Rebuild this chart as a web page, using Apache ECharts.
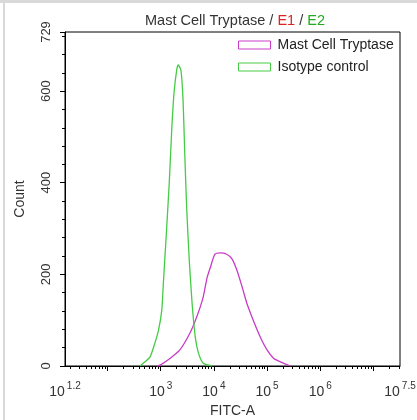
<!DOCTYPE html>
<html>
<head>
<meta charset="utf-8">
<script src="https://cdn.jsdelivr.net/npm/echarts@6/dist/echarts.min.js"></script>
<style>
html,body{margin:0;padding:0;background:#fff;}
#main{width:417px;height:420px;}
</style>
</head>
<body>
<div id="main"></div>
<script>
// ---- data (x as log10 of FITC-A, y as count) ----
const seriesNames = ['Mast Cell Tryptase', 'Isotype control'];
const tryptaseLogX = [2.93, 2.99, 3.18, 3.36, 3.55, 3.68, 3.80, 3.87, 3.93, 4.02, 4.12, 4.24, 4.34, 4.43, 4.53, 4.62, 4.74, 4.87, 5.00, 5.12, 5.25, 5.44];
const tryptaseCount = [0, 2, 17, 35, 72, 108, 151, 192, 214, 244, 247, 244, 234, 210, 173, 137, 100, 64, 35, 17, 9, 0];
const isotypeLogX = [2.61, 2.67, 2.80, 2.89, 2.96, 3.02, 3.05, 3.11, 3.16, 3.21, 3.25, 3.30, 3.33, 3.38, 3.42, 3.45, 3.49, 3.54, 3.59, 3.65, 3.71, 3.80, 3.97];
const isotypeCount = [0, 6, 20, 50, 79, 122, 181, 297, 399, 522, 596, 646, 657, 646, 581, 471, 340, 225, 137, 63, 28, 6, 0];
const xTickValues = [1.2, 3, 4, 5, 6, 7.5];
const xTickLabels = ['1.2', '3', '4', '5', '6', '7.5'];
const xMajorTicks = [2, 3, 4, 5, 6, 7];
const yTickValues = [0, 200, 400, 600, 729];
const yMinorStep = 40;

const colors = ['#c83cc8', '#44cc44'];

function pairs(xs, ys) { return xs.map((x, i) => [x, ys[i]]); }

// minor log ticks (2..9 within each decade)
const xMinorTicks = [];
for (let d = 1; d <= 7; d++) {
  for (let k = 2; k <= 9; k++) {
    const v = d + Math.log10(k);
    if (v > 1.2 && v < 7.5) xMinorTicks.push(v);
  }
}
const yMinorTicks = [];
for (let v = yMinorStep; v < 729; v += yMinorStep) {
  if (v % 200 !== 0) yMinorTicks.push(v);
}

const chart = echarts.init(document.getElementById('main'), null, {renderer: 'canvas'});
const font = 'Liberation Sans, Arial, sans-serif';

chart.setOption({
  animation: false,
  backgroundColor: '#fff',
  textStyle: {fontFamily: font},
  graphic: [
    {type: 'rect', shape: {x: 0, y: 0, width: 417, height: 3}, style: {fill: '#d9d9d9'}, silent: true},
    {type: 'rect', shape: {x: 3, y: 0, width: 2, height: 420}, style: {fill: '#d9d9d9'}, silent: true}
  ],
  title: {
    text: '{a|Mast Cell Tryptase / }{r|E1}{a| / }{g|E2}',
    left: 230, top: 8, textAlign: 'center',
    textStyle: {
      fontWeight: 'normal',
      rich: {
        a: {fontSize: 14.5, color: '#333', fontFamily: font, fontWeight: 'normal'},
        r: {fontSize: 14.5, color: '#d22', fontFamily: font, fontWeight: 'normal'},
        g: {fontSize: 14.5, color: '#2a2', fontFamily: font, fontWeight: 'normal'}
      }
    }
  },
  legend: {
    orient: 'vertical',
    left: 238, top: 38, padding: 0,
    itemWidth: 32, itemHeight: 8, itemGap: 8,
    icon: 'rect',
    textStyle: {fontSize: 14, color: '#222', fontFamily: font, padding: [0, 0, 0, 2]},
    data: seriesNames.map((n, i) => ({
      name: n,
      icon: 'rect',
      itemStyle: {color: '#fff', borderColor: colors[i], borderWidth: 1}
    }))
  },
  grid: {
    left: 65, right: 17, top: 32, bottom: 54,
    outerBoundsMode: 'none', containLabel: false,
    show: true, borderColor: '#000', borderWidth: 1, backgroundColor: 'transparent'
  },
  xAxis: [
    {
      type: 'value', min: 1.2, max: 7.5, position: 'bottom',
      name: 'FITC-A', nameLocation: 'middle', nameGap: 38,
      nameTextStyle: {fontSize: 14, color: '#333', fontFamily: font},
      axisLine: {lineStyle: {color: '#000', width: 1}},
      splitLine: {show: false},
      axisTick: {show: true, length: 5, inside: false, customValues: xMajorTicks, lineStyle: {color: '#000'}},
      axisLabel: {
        customValues: xTickValues,
        margin: 15,
        formatter: function (v) {
          let idx = xTickValues.findIndex(t => Math.abs(t - v) < 1e-6);
          return '{b|10}{s|' + (idx >= 0 ? xTickLabels[idx] : '') + '}';
        },
        rich: {
          b: {fontSize: 14, color: '#333', fontFamily: font, verticalAlign: 'bottom', lineHeight: 18},
          s: {fontSize: 10, color: '#333', fontFamily: font, verticalAlign: 'top', lineHeight: 18, padding: [0, 0, 8, 2]}
        }
      }
    },
    {
      type: 'value', min: 1.2, max: 7.5, position: 'bottom',
      axisLine: {show: false},
      splitLine: {show: false},
      axisLabel: {show: false},
      axisTick: {show: true, length: 3, customValues: xMinorTicks, lineStyle: {color: '#000'}}
    }
  ],
  yAxis: [
    {
      type: 'value', min: 0, max: 729, position: 'left',
      name: 'Count', nameLocation: 'middle', nameGap: 38, nameRotate: 90,
      nameTextStyle: {fontSize: 14, color: '#333', fontFamily: font},
      axisLine: {show: true, lineStyle: {color: '#000', width: 1}},
      splitLine: {show: false},
      axisTick: {show: true, length: 5, customValues: [0, 200, 400, 600, 729], lineStyle: {color: '#000'}},
      axisLabel: {
        customValues: yTickValues, rotate: 90, margin: 12,
        fontSize: 13, color: '#333', fontFamily: font
      }
    },
    {
      type: 'value', min: 0, max: 729, position: 'left',
      axisLine: {show: false},
      splitLine: {show: false},
      axisLabel: {show: false},
      axisTick: {show: true, length: 3, customValues: yMinorTicks, lineStyle: {color: '#000'}}
    }
  ],
  series: [
    {
      name: seriesNames[0], type: 'line', xAxisIndex: 0, yAxisIndex: 0,
      data: pairs(tryptaseLogX, tryptaseCount),
      showSymbol: false, smooth: 0.2, color: colors[0],
      lineStyle: {color: colors[0], width: 1.3},
      itemStyle: {color: '#fff', borderColor: colors[0], borderWidth: 1}
    },
    {
      name: seriesNames[1], type: 'line', xAxisIndex: 0, yAxisIndex: 0,
      data: pairs(isotypeLogX, isotypeCount),
      showSymbol: false, smooth: 0.2, color: colors[1],
      lineStyle: {color: colors[1], width: 1.3},
      itemStyle: {color: '#fff', borderColor: colors[1], borderWidth: 1}
    }
  ]
});
</script>
</body>
</html>
